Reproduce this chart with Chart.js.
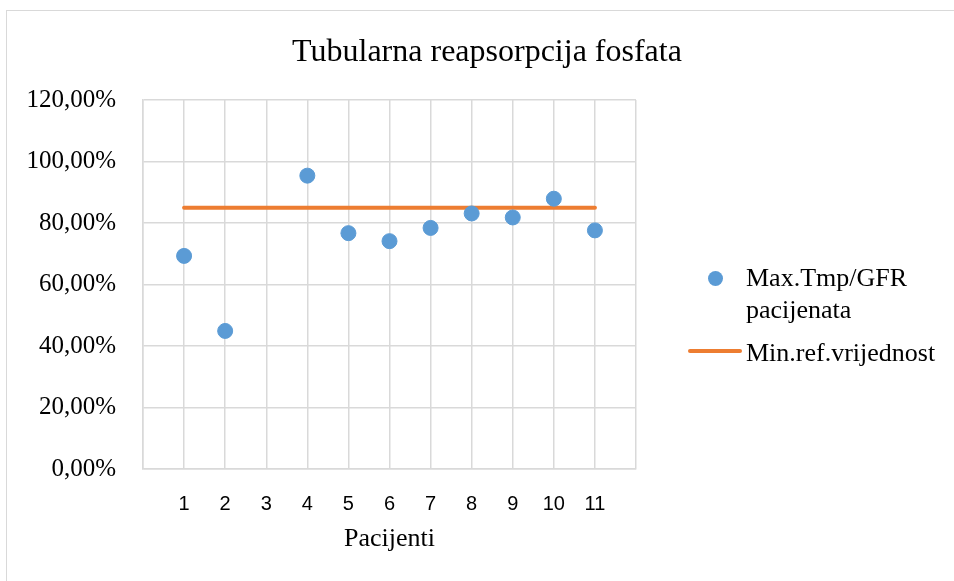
<!DOCTYPE html>
<html lang="hr">
<head>
	<meta charset="UTF-8">
	<title>Tubularna reapsorpcija fosfata</title>
	<script src="https://cdn.jsdelivr.net/npm/chart.js@4.4.0/dist/chart.umd.min.js"></script>
	<style>
		html, body { margin: 0; padding: 0; background: #fff; }
		#wrap { position: relative; width: 954px; height: 581px; overflow: hidden; }
		#frame { position: absolute; left: 6px; top: 10px; width: 1000px; height: 700px; border-left: 1px solid #d9d9d9; border-top: 1px solid #d9d9d9; }
		#myChart { position: absolute; left: 0; top: 0; }
		#legend { position: absolute; left: 686px; top: 262px; font-family: "Liberation Serif", "Times New Roman", serif; font-size: 26px; color: #000; line-height: 32px; }
		.item { display: flex; align-items: flex-start; }
		.sym { width: 60px; height: 32px; position: relative; flex: none; }
		.dot { position: absolute; left: 21.5px; top: 8.5px; width: 15px; height: 15px; border-radius: 50%; background: #5b9bd5; }
		.bar { position: absolute; left: 2px; top: 12px; width: 54px; height: 4px; border-radius: 2px; background: #ed7d31; }
	</style>
</head>
<body>
	<div id="wrap">
		<div id="frame"></div>
		<canvas id="myChart" width="954" height="581"></canvas>
		<div id="legend">
			<div class="item" style="margin-bottom: 11px"><div class="sym"><div class="dot"></div></div><div>Max.Tmp/GFR<br>pacijenata</div></div>
			<div class="item"><div class="sym"><div class="bar"></div></div><div>Min.ref.vrijednost</div></div>
		</div>
	</div>

	<script>
		const patients = [1, 2, 3, 4, 5, 6, 7, 8, 9, 10, 11]
		const tmpGfr = [69.3, 44.9, null, 95.4, 76.7, 74.1, 78.4, 83.1, 81.8, 87.9, 77.6]
		const minRef = [85, 85, 85, 85, 85, 85, 85, 85, 85, 85, 85]
		const yTicks = [0, 20, 40, 60, 80, 100, 120]

		const serif = '"Liberation Serif", "Times New Roman", serif'

		// title centred over the whole frame, not only the plot part
		const wideTitle = {
			id: 'wideTitle',
			afterLayout(chart) {
				const t = chart.titleBlock
				t.left = 20
				t.right = chart.width
				t.width = t.right - t.left
			}
		}

		var ctx = document.getElementById('myChart').getContext('2d')

		var chart = new Chart(ctx, {
			type: 'scatter',
			data: {
				datasets: [{
					label: 'Max.Tmp/GFR pacijenata',
					data: patients.map((p, i) => ({ x: p, y: tmpGfr[i] })).filter(d => d.y !== null),
					backgroundColor: '#5b9bd5',
					borderColor: '#5b9bd5',
					pointRadius: 7.5,
					pointHoverRadius: 7.5,
					showLine: false,
					order: 1
				}, {
					label: 'Min.ref.vrijednost',
					data: patients.map((p, i) => ({ x: p, y: minRef[i] })),
					borderColor: '#ed7d31',
					backgroundColor: '#ed7d31',
					borderWidth: 4,
					borderCapStyle: 'round',
					pointRadius: 0,
					showLine: true,
					order: 2
				}]
			},
			options: {
				responsive: false,
				animation: false,
				layout: { padding: { left: 0, right: 318, top: 0, bottom: 0 } },
				plugins: {
					legend: { display: false },
					tooltip: { enabled: false },
					title: {
						display: true,
						text: 'Tubularna reapsorpcija fosfata',
						color: '#000',
						font: { family: serif, size: 32, weight: 'normal' },
						padding: { top: 33, bottom: 28.6 }
					}
				},
				scales: {
					x: {
						type: 'linear',
						min: 0,
						max: 12,
						ticks: {
							stepSize: 1,
							color: '#000',
							padding: 23,
							font: { family: '"Liberation Sans", Arial, sans-serif', size: 20 },
							callback: v => (v >= 1 && v <= 11) ? v : ''
						},
						grid: { color: '#d9d9d9', lineWidth: 1.5, drawTicks: false },
						border: { color: '#d9d9d9', width: 1.5 },
						title: {
							display: true,
							text: 'Pacijenti',
							color: '#000',
							font: { family: serif, size: 26 },
							padding: { top: 0, bottom: 26 }
						},
						afterFit: s => { s.height = 112 }
					},
					y: {
						min: 0,
						max: 120,
						afterBuildTicks: s => { s.ticks = yTicks.map(v => ({ value: v })) },
						ticks: {
							color: '#000',
							padding: 27,
							font: { family: serif, size: 25 },
							callback: v => v.toFixed(2).replace('.', ',') + '%'
						},
						grid: { color: '#d9d9d9', lineWidth: 1.5, drawTicks: false },
						border: { color: '#d9d9d9', width: 1.5 },
						afterFit: s => { s.width = 143 }
					}
				}
			},
			plugins: [wideTitle]
		})
	</script>
</body>
</html>
